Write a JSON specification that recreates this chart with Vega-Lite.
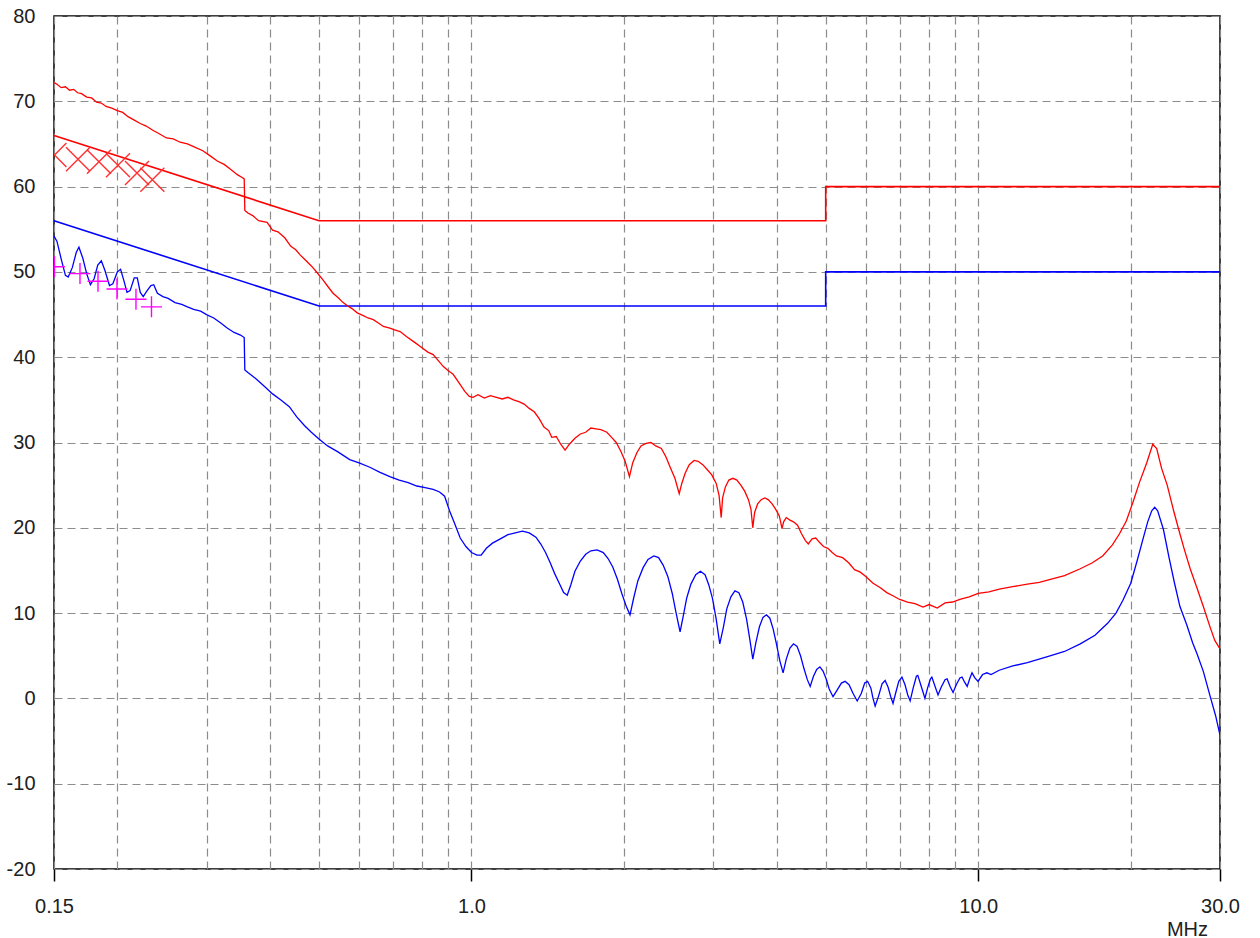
{
  "$schema": "https://vega.github.io/schema/vega-lite/v6.json",
  "width": 1166,
  "height": 853,
  "autosize": {"type": "none"},
  "padding": {"left": 54, "top": 16, "right": 40, "bottom": 69},
  "background": "white",
  "config": {
    "view": {"stroke": "#000000", "strokeWidth": 1.5},
    "font": "Liberation Sans"
  },
  "datasets": {
    "qp": [
      {"f": 0.15, "db": 66}, {"f": 0.5, "db": 56}, {"f": 5, "db": 56}, {"f": 5, "db": 60}, {"f": 30, "db": 60}
    ],
    "av": [
      {"f": 0.15, "db": 56}, {"f": 0.5, "db": 46}, {"f": 5, "db": 46}, {"f": 5, "db": 50}, {"f": 30, "db": 50}
    ],
    "peak": [
      {"f": 0.150, "db": 72.2}, {"f": 0.152, "db": 72.0}, {"f": 0.155, "db": 71.6}, {"f": 0.158, "db": 71.7},
      {"f": 0.161, "db": 71.3}, {"f": 0.164, "db": 71.4}, {"f": 0.167, "db": 71.0}, {"f": 0.170, "db": 70.9},
      {"f": 0.174, "db": 70.5}, {"f": 0.178, "db": 70.4}, {"f": 0.182, "db": 69.9}, {"f": 0.186, "db": 69.8},
      {"f": 0.190, "db": 69.4}, {"f": 0.195, "db": 69.2}, {"f": 0.200, "db": 68.9}, {"f": 0.205, "db": 68.7},
      {"f": 0.210, "db": 68.2}, {"f": 0.216, "db": 67.8}, {"f": 0.222, "db": 67.4}, {"f": 0.228, "db": 67.1},
      {"f": 0.235, "db": 66.6}, {"f": 0.242, "db": 66.2}, {"f": 0.250, "db": 65.7}, {"f": 0.258, "db": 65.6},
      {"f": 0.266, "db": 65.2}, {"f": 0.275, "db": 65.0}, {"f": 0.285, "db": 64.6}, {"f": 0.295, "db": 64.2},
      {"f": 0.305, "db": 63.6}, {"f": 0.315, "db": 63.0}, {"f": 0.325, "db": 62.6}, {"f": 0.335, "db": 62.0},
      {"f": 0.345, "db": 61.4}, {"f": 0.352, "db": 61.1}, {"f": 0.356, "db": 60.9}, {"f": 0.357, "db": 57.2},
      {"f": 0.362, "db": 56.9}, {"f": 0.370, "db": 56.6}, {"f": 0.380, "db": 56.0}, {"f": 0.395, "db": 55.8},
      {"f": 0.405, "db": 54.9}, {"f": 0.415, "db": 54.7}, {"f": 0.428, "db": 54.0}, {"f": 0.440, "db": 53.0},
      {"f": 0.450, "db": 52.6}, {"f": 0.459, "db": 52.0}, {"f": 0.470, "db": 51.4}, {"f": 0.483, "db": 50.7},
      {"f": 0.496, "db": 49.9}, {"f": 0.510, "db": 49.0}, {"f": 0.522, "db": 48.2}, {"f": 0.533, "db": 47.5},
      {"f": 0.545, "db": 47.0}, {"f": 0.558, "db": 46.4}, {"f": 0.570, "db": 46.0}, {"f": 0.581, "db": 45.7},
      {"f": 0.595, "db": 45.2}, {"f": 0.610, "db": 44.9}, {"f": 0.625, "db": 44.6}, {"f": 0.640, "db": 44.4},
      {"f": 0.655, "db": 44.0}, {"f": 0.670, "db": 43.6}, {"f": 0.690, "db": 43.4}, {"f": 0.705, "db": 43.2},
      {"f": 0.723, "db": 43.0}, {"f": 0.745, "db": 42.4}, {"f": 0.770, "db": 41.8}, {"f": 0.795, "db": 41.2},
      {"f": 0.820, "db": 40.6}, {"f": 0.840, "db": 40.3}, {"f": 0.860, "db": 39.6}, {"f": 0.880, "db": 38.9},
      {"f": 0.900, "db": 38.4}, {"f": 0.920, "db": 38.0}, {"f": 0.945, "db": 37.0}, {"f": 0.970, "db": 36.0},
      {"f": 0.990, "db": 35.4}, {"f": 1.007, "db": 35.3}, {"f": 1.03, "db": 35.6}, {"f": 1.06, "db": 35.2},
      {"f": 1.09, "db": 35.5}, {"f": 1.12, "db": 35.3}, {"f": 1.15, "db": 35.1}, {"f": 1.18, "db": 35.3},
      {"f": 1.21, "db": 35.0}, {"f": 1.24, "db": 34.8}, {"f": 1.27, "db": 34.5}, {"f": 1.30, "db": 34.0},
      {"f": 1.33, "db": 33.6}, {"f": 1.36, "db": 32.8}, {"f": 1.39, "db": 31.8}, {"f": 1.42, "db": 31.4},
      {"f": 1.44, "db": 30.6}, {"f": 1.47, "db": 30.7}, {"f": 1.50, "db": 29.8}, {"f": 1.53, "db": 29.1},
      {"f": 1.56, "db": 29.8}, {"f": 1.60, "db": 30.5}, {"f": 1.64, "db": 31.0}, {"f": 1.68, "db": 31.2},
      {"f": 1.72, "db": 31.7}, {"f": 1.76, "db": 31.6}, {"f": 1.80, "db": 31.5}, {"f": 1.85, "db": 31.2},
      {"f": 1.89, "db": 30.6}, {"f": 1.93, "db": 30.0}, {"f": 1.97, "db": 29.0}, {"f": 2.01, "db": 27.8},
      {"f": 2.05, "db": 26.0}, {"f": 2.08, "db": 27.6}, {"f": 2.12, "db": 28.8}, {"f": 2.16, "db": 29.6},
      {"f": 2.21, "db": 29.9}, {"f": 2.26, "db": 30.0}, {"f": 2.31, "db": 29.6}, {"f": 2.37, "db": 29.3},
      {"f": 2.42, "db": 28.3}, {"f": 2.47, "db": 27.0}, {"f": 2.52, "db": 25.8}, {"f": 2.57, "db": 24.0},
      {"f": 2.60, "db": 25.2}, {"f": 2.64, "db": 26.4}, {"f": 2.69, "db": 27.4}, {"f": 2.75, "db": 27.9},
      {"f": 2.80, "db": 27.8}, {"f": 2.86, "db": 27.4}, {"f": 2.92, "db": 26.8}, {"f": 2.98, "db": 26.2},
      {"f": 3.04, "db": 25.2}, {"f": 3.08, "db": 23.8}, {"f": 3.11, "db": 21.2}, {"f": 3.13, "db": 23.5},
      {"f": 3.17, "db": 24.8}, {"f": 3.22, "db": 25.6}, {"f": 3.28, "db": 25.8}, {"f": 3.34, "db": 25.6},
      {"f": 3.40, "db": 25.0}, {"f": 3.46, "db": 24.3}, {"f": 3.52, "db": 23.3}, {"f": 3.56, "db": 22.2},
      {"f": 3.59, "db": 20.0}, {"f": 3.62, "db": 21.8}, {"f": 3.67, "db": 22.8}, {"f": 3.73, "db": 23.3},
      {"f": 3.79, "db": 23.5}, {"f": 3.85, "db": 23.3}, {"f": 3.92, "db": 22.8}, {"f": 3.99, "db": 22.1},
      {"f": 4.05, "db": 21.4}, {"f": 4.10, "db": 19.9}, {"f": 4.13, "db": 20.7}, {"f": 4.18, "db": 21.2},
      {"f": 4.25, "db": 20.9}, {"f": 4.32, "db": 20.7}, {"f": 4.40, "db": 20.3}, {"f": 4.48, "db": 19.3},
      {"f": 4.56, "db": 18.5}, {"f": 4.62, "db": 18.1}, {"f": 4.70, "db": 18.7}, {"f": 4.78, "db": 18.8},
      {"f": 4.86, "db": 18.3}, {"f": 4.95, "db": 17.8}, {"f": 5.05, "db": 17.6}, {"f": 5.15, "db": 17.1},
      {"f": 5.25, "db": 16.7}, {"f": 5.40, "db": 16.5}, {"f": 5.55, "db": 15.9}, {"f": 5.70, "db": 15.1},
      {"f": 5.85, "db": 14.8}, {"f": 6.00, "db": 14.3}, {"f": 6.20, "db": 13.5}, {"f": 6.40, "db": 13.0},
      {"f": 6.60, "db": 12.4}, {"f": 6.80, "db": 12.0}, {"f": 7.00, "db": 11.6}, {"f": 7.25, "db": 11.3},
      {"f": 7.50, "db": 11.1}, {"f": 7.78, "db": 10.7}, {"f": 8.00, "db": 11.0}, {"f": 8.30, "db": 10.6},
      {"f": 8.60, "db": 11.2}, {"f": 8.90, "db": 11.3}, {"f": 9.20, "db": 11.6}, {"f": 9.60, "db": 11.9},
      {"f": 10.0, "db": 12.3}, {"f": 10.5, "db": 12.5}, {"f": 11.0, "db": 12.8}, {"f": 11.7, "db": 13.1},
      {"f": 12.5, "db": 13.4}, {"f": 13.2, "db": 13.6}, {"f": 14.0, "db": 14.0}, {"f": 14.8, "db": 14.4},
      {"f": 15.9, "db": 15.2}, {"f": 16.8, "db": 15.9}, {"f": 17.6, "db": 16.7}, {"f": 18.4, "db": 18.0},
      {"f": 19.0, "db": 19.3}, {"f": 19.6, "db": 20.8}, {"f": 20.2, "db": 23.0}, {"f": 20.8, "db": 25.3},
      {"f": 21.5, "db": 27.6}, {"f": 22.1, "db": 29.8}, {"f": 22.5, "db": 29.3}, {"f": 23.0, "db": 27.0},
      {"f": 23.6, "db": 25.0}, {"f": 24.3, "db": 22.0}, {"f": 25.0, "db": 19.3}, {"f": 25.5, "db": 17.5},
      {"f": 26.2, "db": 15.2}, {"f": 27.0, "db": 13.0}, {"f": 27.8, "db": 10.8}, {"f": 28.7, "db": 8.3},
      {"f": 29.3, "db": 6.8}, {"f": 30.0, "db": 5.8}
    ],
    "avg": [
      {"f": 0.150, "db": 54.2}, {"f": 0.152, "db": 53.6}, {"f": 0.155, "db": 51.5}, {"f": 0.158, "db": 49.6},
      {"f": 0.160, "db": 49.4}, {"f": 0.163, "db": 50.5}, {"f": 0.166, "db": 52.3}, {"f": 0.168, "db": 52.9},
      {"f": 0.171, "db": 51.6}, {"f": 0.174, "db": 49.8}, {"f": 0.177, "db": 48.5}, {"f": 0.180, "db": 49.2},
      {"f": 0.183, "db": 50.8}, {"f": 0.186, "db": 51.3}, {"f": 0.189, "db": 50.2}, {"f": 0.193, "db": 48.4},
      {"f": 0.196, "db": 48.6}, {"f": 0.200, "db": 50.0}, {"f": 0.203, "db": 50.3}, {"f": 0.206, "db": 49.0},
      {"f": 0.209, "db": 47.6}, {"f": 0.212, "db": 47.8}, {"f": 0.216, "db": 49.3}, {"f": 0.219, "db": 49.3},
      {"f": 0.222, "db": 47.6}, {"f": 0.225, "db": 47.1}, {"f": 0.229, "db": 47.8}, {"f": 0.233, "db": 48.4},
      {"f": 0.236, "db": 48.5}, {"f": 0.240, "db": 47.5}, {"f": 0.246, "db": 47.1}, {"f": 0.252, "db": 46.9},
      {"f": 0.260, "db": 46.4}, {"f": 0.268, "db": 46.2}, {"f": 0.275, "db": 45.9}, {"f": 0.283, "db": 45.6},
      {"f": 0.292, "db": 45.4}, {"f": 0.300, "db": 45.0}, {"f": 0.310, "db": 44.6}, {"f": 0.320, "db": 44.0},
      {"f": 0.330, "db": 43.4}, {"f": 0.340, "db": 42.9}, {"f": 0.350, "db": 42.6}, {"f": 0.356, "db": 42.3},
      {"f": 0.357, "db": 38.5}, {"f": 0.362, "db": 38.2}, {"f": 0.375, "db": 37.5}, {"f": 0.390, "db": 36.6},
      {"f": 0.405, "db": 35.7}, {"f": 0.420, "db": 35.0}, {"f": 0.437, "db": 34.2}, {"f": 0.452, "db": 33.0},
      {"f": 0.468, "db": 32.0}, {"f": 0.483, "db": 31.2}, {"f": 0.500, "db": 30.4}, {"f": 0.520, "db": 29.6},
      {"f": 0.545, "db": 28.9}, {"f": 0.575, "db": 28.0}, {"f": 0.600, "db": 27.6}, {"f": 0.630, "db": 27.1},
      {"f": 0.660, "db": 26.5}, {"f": 0.690, "db": 26.0}, {"f": 0.720, "db": 25.6}, {"f": 0.750, "db": 25.3},
      {"f": 0.780, "db": 24.9}, {"f": 0.810, "db": 24.7}, {"f": 0.840, "db": 24.5}, {"f": 0.865, "db": 24.2},
      {"f": 0.885, "db": 23.7}, {"f": 0.905, "db": 22.0}, {"f": 0.925, "db": 20.6}, {"f": 0.950, "db": 18.8},
      {"f": 0.975, "db": 17.8}, {"f": 1.000, "db": 17.1}, {"f": 1.025, "db": 16.8}, {"f": 1.045, "db": 16.8},
      {"f": 1.07, "db": 17.6}, {"f": 1.10, "db": 18.2}, {"f": 1.14, "db": 18.7}, {"f": 1.18, "db": 19.2},
      {"f": 1.22, "db": 19.4}, {"f": 1.26, "db": 19.6}, {"f": 1.30, "db": 19.4}, {"f": 1.34, "db": 18.9},
      {"f": 1.37, "db": 18.1}, {"f": 1.40, "db": 17.1}, {"f": 1.43, "db": 15.9}, {"f": 1.46, "db": 14.6},
      {"f": 1.49, "db": 13.5}, {"f": 1.52, "db": 12.4}, {"f": 1.545, "db": 12.1}, {"f": 1.57, "db": 13.3},
      {"f": 1.60, "db": 14.9}, {"f": 1.64, "db": 16.1}, {"f": 1.68, "db": 16.9}, {"f": 1.72, "db": 17.3},
      {"f": 1.77, "db": 17.4}, {"f": 1.82, "db": 17.1}, {"f": 1.86, "db": 16.4}, {"f": 1.90, "db": 15.4},
      {"f": 1.94, "db": 14.0}, {"f": 1.98, "db": 12.3}, {"f": 2.02, "db": 10.8}, {"f": 2.055, "db": 9.8},
      {"f": 2.09, "db": 11.8}, {"f": 2.13, "db": 13.8}, {"f": 2.18, "db": 15.3}, {"f": 2.23, "db": 16.3},
      {"f": 2.29, "db": 16.7}, {"f": 2.34, "db": 16.5}, {"f": 2.39, "db": 15.6}, {"f": 2.44, "db": 14.3},
      {"f": 2.49, "db": 12.3}, {"f": 2.53, "db": 10.2}, {"f": 2.58, "db": 7.8}, {"f": 2.62, "db": 9.8},
      {"f": 2.66, "db": 11.8}, {"f": 2.71, "db": 13.4}, {"f": 2.77, "db": 14.5}, {"f": 2.83, "db": 14.9},
      {"f": 2.89, "db": 14.5}, {"f": 2.94, "db": 13.3}, {"f": 2.99, "db": 11.7}, {"f": 3.04, "db": 9.3},
      {"f": 3.09, "db": 6.4}, {"f": 3.14, "db": 8.3}, {"f": 3.19, "db": 10.5}, {"f": 3.25, "db": 11.9},
      {"f": 3.31, "db": 12.6}, {"f": 3.37, "db": 12.4}, {"f": 3.43, "db": 11.3}, {"f": 3.49, "db": 9.3},
      {"f": 3.54, "db": 7.0}, {"f": 3.59, "db": 4.6}, {"f": 3.64, "db": 6.5}, {"f": 3.70, "db": 8.4},
      {"f": 3.76, "db": 9.5}, {"f": 3.82, "db": 9.8}, {"f": 3.88, "db": 9.4}, {"f": 3.94, "db": 8.1},
      {"f": 4.00, "db": 6.3}, {"f": 4.06, "db": 4.4}, {"f": 4.12, "db": 3.0}, {"f": 4.18, "db": 4.6},
      {"f": 4.25, "db": 5.9}, {"f": 4.32, "db": 6.4}, {"f": 4.39, "db": 6.1}, {"f": 4.46, "db": 5.0},
      {"f": 4.53, "db": 3.5}, {"f": 4.60, "db": 2.2}, {"f": 4.66, "db": 1.4}, {"f": 4.73, "db": 2.6},
      {"f": 4.80, "db": 3.4}, {"f": 4.87, "db": 3.7}, {"f": 4.94, "db": 3.2}, {"f": 5.01, "db": 2.3},
      {"f": 5.08, "db": 1.1}, {"f": 5.17, "db": 0.2}, {"f": 5.27, "db": 1.0}, {"f": 5.37, "db": 1.8},
      {"f": 5.46, "db": 2.0}, {"f": 5.56, "db": 1.6}, {"f": 5.66, "db": 0.6}, {"f": 5.77, "db": -0.3},
      {"f": 5.88, "db": 0.6}, {"f": 5.97, "db": 1.8}, {"f": 6.05, "db": 2.0}, {"f": 6.14, "db": 1.2},
      {"f": 6.20, "db": 0.0}, {"f": 6.26, "db": -0.9}, {"f": 6.36, "db": 0.3}, {"f": 6.46, "db": 1.7},
      {"f": 6.55, "db": 2.1}, {"f": 6.64, "db": 1.3}, {"f": 6.72, "db": 0.2}, {"f": 6.79, "db": -0.6},
      {"f": 6.87, "db": 0.6}, {"f": 6.97, "db": 2.0}, {"f": 7.07, "db": 2.5}, {"f": 7.17, "db": 1.6},
      {"f": 7.26, "db": 0.4}, {"f": 7.34, "db": -0.3}, {"f": 7.44, "db": 1.2}, {"f": 7.55, "db": 2.6},
      {"f": 7.60, "db": 2.7}, {"f": 7.72, "db": 1.4}, {"f": 7.85, "db": 0.0}, {"f": 7.95, "db": 1.3},
      {"f": 8.05, "db": 2.3}, {"f": 8.10, "db": 2.5}, {"f": 8.22, "db": 1.4}, {"f": 8.33, "db": 0.4},
      {"f": 8.45, "db": 1.3}, {"f": 8.60, "db": 2.2}, {"f": 8.68, "db": 2.3}, {"f": 8.80, "db": 1.4},
      {"f": 8.92, "db": 0.7}, {"f": 9.05, "db": 1.6}, {"f": 9.20, "db": 2.4}, {"f": 9.29, "db": 2.5},
      {"f": 9.40, "db": 1.9}, {"f": 9.51, "db": 1.4}, {"f": 9.62, "db": 2.3}, {"f": 9.72, "db": 3.0},
      {"f": 9.85, "db": 2.4}, {"f": 9.99, "db": 2.0}, {"f": 10.2, "db": 2.8}, {"f": 10.4, "db": 3.0},
      {"f": 10.6, "db": 2.8}, {"f": 11.0, "db": 3.3}, {"f": 11.7, "db": 3.8}, {"f": 12.5, "db": 4.2},
      {"f": 13.7, "db": 4.9}, {"f": 14.8, "db": 5.5}, {"f": 15.9, "db": 6.4}, {"f": 17.0, "db": 7.4},
      {"f": 18.0, "db": 8.8}, {"f": 18.7, "db": 10.0}, {"f": 19.3, "db": 11.5}, {"f": 20.0, "db": 13.5},
      {"f": 20.6, "db": 16.2}, {"f": 21.1, "db": 18.5}, {"f": 21.6, "db": 20.7}, {"f": 22.0, "db": 22.0},
      {"f": 22.3, "db": 22.4}, {"f": 22.6, "db": 22.0}, {"f": 23.2, "db": 19.8}, {"f": 23.8, "db": 16.5},
      {"f": 24.4, "db": 13.5}, {"f": 25.0, "db": 10.8}, {"f": 25.8, "db": 8.6}, {"f": 26.5, "db": 6.5},
      {"f": 27.0, "db": 5.3}, {"f": 27.8, "db": 3.2}, {"f": 28.7, "db": 0.2}, {"f": 29.4, "db": -2.0},
      {"f": 30.0, "db": -4.3}
    ],
    "xm": [
      {"f": 0.1503, "db": 63.7}, {"f": 0.1673, "db": 63.2}, {"f": 0.1840, "db": 62.9},
      {"f": 0.2006, "db": 62.5}, {"f": 0.2187, "db": 61.6}, {"f": 0.2345, "db": 60.8}
    ],
    "pm": [
      {"f": 0.1503, "db": 50.6}, {"f": 0.1688, "db": 49.8}, {"f": 0.1832, "db": 48.9},
      {"f": 0.1997, "db": 48.0}, {"f": 0.2177, "db": 46.8}, {"f": 0.2336, "db": 45.9}
    ]
  },
  "encoding": {
    "x": {
      "field": "f",
      "type": "quantitative",
      "scale": {"type": "log", "domain": [0.15, 30], "nice": false, "zero": false},
      "axis": {
        "values": [0.15, 0.2, 0.3, 0.4, 0.5, 0.6, 0.7, 0.8, 0.9, 1, 2, 3, 4, 5, 6, 7, 8, 9, 10, 20, 30],
        "labelExpr": "datum.value == 0.15 ? '0.15' : (datum.value == 1 || datum.value == 10 || datum.value == 30) ? format(datum.value, '.1f') : ''",
        "labelOverlap": false,
        "labelFlush": false,
        "labelBound": false,
        "labelDx": 9,
        "labelPadding": 15,
        "labelFontSize": 20,
        "labelColor": "#202020",
        "labelFont": "Liberation Sans",
        "domain": false,
        "grid": true,
        "gridColor": "#8c8c8c",
        "gridDash": [8, 5],
        "gridWidth": 1.2,
        "ticks": true,
        "tickSize": 12,
        "tickColor": "#000000",
        "tickWidth": 1.5,
        "tickOpacity": {"condition": {"test": "datum.value == 0.15 || datum.value == 1 || datum.value == 10 || datum.value == 30", "value": 1}, "value": 0},
        "title": "MHz",
        "titleFont": "Liberation Sans",
        "titleFontSize": 20,
        "titleFontWeight": "normal",
        "titleColor": "#202020",
        "titleX": 1133,
        "titleY": 60,
        "titleAlign": "center",
        "titleBaseline": "middle"
      }
    },
    "y": {
      "field": "db",
      "type": "quantitative",
      "scale": {"domain": [-20, 80], "nice": false, "zero": false},
      "axis": {
        "values": [-20, -10, 0, 10, 20, 30, 40, 50, 60, 70, 80],
        "labelExpr": "'' + datum.value",
        "title": null,
        "domain": false,
        "ticks": false,
        "labelPadding": 19,
        "labelFontSize": 20,
        "labelColor": "#202020",
        "labelFont": "Liberation Sans",
        "grid": true,
        "gridColor": "#8c8c8c",
        "gridDash": [8, 5],
        "gridWidth": 1.2
      }
    }
  },
  "layer": [
    {
      "data": {"name": "qp"},
      "mark": {"type": "line", "color": "#ff0000", "strokeWidth": 1.6},
      "encoding": {"order": {"value": null}}
    },
    {
      "data": {"name": "av"},
      "mark": {"type": "line", "color": "#0000ff", "strokeWidth": 1.6},
      "encoding": {"order": {"value": null}}
    },
    {
      "data": {"name": "avg"},
      "mark": {"type": "line", "color": "#0000ff", "strokeWidth": 1.3, "clip": true},
      "encoding": {"order": {"value": null}}
    },
    {
      "data": {"name": "peak"},
      "mark": {"type": "line", "color": "#ff0000", "strokeWidth": 1.3, "clip": true},
      "encoding": {"order": {"value": null}}
    },
    {
      "data": {"name": "xm"},
      "mark": {"type": "point", "shape": "M-1,-1L1,1M-1,1L1,-1", "filled": false, "stroke": "#ff3030", "strokeWidth": 1.4, "size": 576, "opacity": 1, "clip": true}
    },
    {
      "data": {"name": "pm"},
      "mark": {"type": "point", "shape": "M-1,0L1,0M0,-1L0,1", "filled": false, "stroke": "#ff00ff", "strokeWidth": 1.4, "size": 441, "opacity": 1, "clip": true}
    }
  ]
}
